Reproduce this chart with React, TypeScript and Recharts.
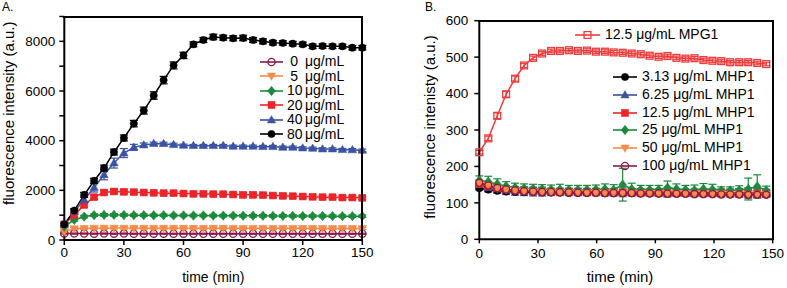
import React from 'react';
import { LineChart, Line, XAxis, YAxis, ErrorBar, Legend } from 'recharts';

const FONT = '"Liberation Sans", Arial, Helvetica, sans-serif';

// ---------------- Panel A data ----------------
const timeA = [0, 5, 10, 15, 20, 25, 30, 35, 40, 45, 50, 55, 60, 65, 70, 75, 80, 85, 90, 95, 100, 105, 110, 115, 120, 125, 130, 135, 140, 145, 150];
const a0 = [262, 258, 260, 256, 258, 255, 257, 254, 256, 255, 255, 254, 255, 253, 254, 253, 254, 252, 253, 252, 253, 252, 252, 251, 252, 251, 251, 250, 251, 250, 250];
const a5 = [337, 458, 470, 475, 478, 480, 480, 478, 478, 476, 476, 475, 475, 474, 474, 473, 473, 472, 472, 471, 471, 470, 470, 469, 469, 468, 468, 467, 467, 466, 466];
const a10 = [539, 808, 943, 1000, 1010, 1010, 1005, 1000, 1000, 995, 995, 990, 990, 985, 985, 980, 980, 980, 975, 975, 975, 970, 970, 970, 965, 965, 965, 960, 960, 960, 960];
const a20 = [633, 1010, 1414, 1724, 1912, 1953, 1939, 1926, 1912, 1900, 1886, 1886, 1872, 1859, 1859, 1845, 1845, 1832, 1818, 1818, 1805, 1791, 1778, 1764, 1751, 1740, 1724, 1724, 1710, 1710, 1697];
const a40 = [633, 1145, 1616, 2114, 2626, 3098, 3502, 3731, 3825, 3879, 3879, 3838, 3811, 3798, 3798, 3798, 3798, 3771, 3771, 3771, 3758, 3758, 3731, 3731, 3704, 3690, 3663, 3663, 3636, 3630, 3609];
const a80 = [633, 1185, 1818, 2384, 2896, 3542, 4108, 4687, 5212, 5818, 6438, 7030, 7434, 7879, 8054, 8175, 8148, 8121, 8135, 8054, 8000, 7946, 7933, 7906, 7879, 7798, 7811, 7798, 7798, 7744, 7744];
const e0 = [20, 20, 20, 20, 20, 20, 20, 20, 20, 20, 20, 20, 20, 20, 20, 20, 20, 20, 20, 20, 20, 20, 20, 20, 20, 20, 20, 20, 20, 20, 20];
const e5 = [30, 40, 40, 40, 40, 40, 40, 40, 40, 40, 40, 40, 40, 40, 40, 40, 40, 40, 40, 40, 40, 40, 40, 40, 40, 40, 40, 40, 40, 40, 40];
const e10 = [40, 50, 50, 50, 50, 50, 50, 50, 50, 50, 50, 50, 50, 50, 50, 50, 50, 50, 50, 50, 50, 50, 50, 50, 50, 50, 50, 50, 50, 50, 50];
const e20 = [60, 80, 90, 90, 80, 80, 70, 70, 70, 70, 70, 70, 70, 70, 70, 70, 70, 70, 70, 70, 70, 70, 70, 70, 70, 70, 70, 70, 70, 70, 70];
const e40 = [60, 100, 150, 180, 200, 200, 180, 120, 80, 60, 60, 60, 50, 50, 50, 50, 50, 50, 50, 50, 50, 50, 50, 50, 50, 50, 50, 50, 50, 50, 50];
const e80 = [60, 80, 100, 100, 120, 120, 120, 130, 140, 150, 150, 140, 130, 100, 100, 110, 100, 100, 110, 100, 100, 90, 90, 90, 90, 90, 90, 90, 90, 90, 90];
const concA = ['0', '5', '10', '20', '40', '80'];
const yTicksA = [0, 1000, 2000, 3000, 4000, 5000, 6000, 7000, 8000, 9000];
const xMajor = [0, 30, 60, 90, 120, 150];

// ---------------- Panel B data ----------------
const timeB = [0, 4.6, 9.2, 13.7, 18.3, 22.9, 27.5, 32.1, 36.7, 41.2, 45.8, 50.4, 55, 59.6, 64.2, 68.7, 73.3, 77.9, 82.5, 87.1, 91.7, 96.2, 100.8, 105.4, 110, 114.6, 119.2, 123.7, 128.3, 132.9, 137.5, 142.1, 146.7];
const mpg1 = [239, 277, 339, 398, 441, 477, 498, 510, 517, 517, 519, 517, 518, 515, 515, 513, 512, 510, 508, 504, 501, 503, 498, 496, 497, 492, 490, 489, 486, 486, 486, 484, 481];
const m313 = [140, 136, 133, 131, 130, 129, 129, 128, 128, 128, 127, 127, 127, 127, 126, 126, 126, 126, 126, 126, 125, 125, 125, 125, 125, 125, 124, 124, 124, 124, 124, 124, 124];
const m625 = [150, 142, 138, 135, 133, 132, 131, 131, 130, 130, 130, 130, 130, 130, 129, 129, 129, 129, 129, 129, 129, 128, 128, 128, 128, 128, 128, 128, 128, 127, 127, 127, 127];
const m125 = [152, 145, 140, 137, 135, 133, 132, 132, 131, 131, 131, 130, 130, 130, 130, 130, 129, 129, 129, 129, 129, 129, 128, 128, 128, 128, 128, 128, 128, 128, 127, 127, 127];
const m25 = [162, 158, 152, 146, 142, 140, 139, 138, 137, 137, 136, 136, 136, 137, 138, 136, 150, 138, 136, 136, 136, 142, 138, 136, 135, 138, 137, 134, 134, 135, 138, 145, 134];
const m50 = [155, 148, 140, 136, 134, 132, 131, 130, 130, 129, 129, 129, 128, 128, 128, 128, 127, 127, 127, 127, 126, 126, 126, 126, 125, 125, 125, 125, 124, 124, 124, 124, 124];
const m100 = [155, 148, 141, 137, 134, 132, 131, 130, 130, 129, 129, 128, 128, 128, 127, 127, 127, 127, 126, 126, 126, 125, 125, 125, 124, 124, 124, 123, 123, 123, 122, 122, 122];
const eMpg1 = [5, 6, 8, 8, 7, 6, 5, 5, 5, 5, 5, 5, 5, 5, 5, 5, 5, 5, 5, 5, 5, 5, 5, 5, 5, 5, 5, 5, 5, 5, 5, 5, 5];
const e313 = [4, 4, 4, 4, 4, 4, 4, 4, 4, 4, 4, 4, 4, 4, 4, 4, 4, 4, 4, 4, 4, 4, 4, 4, 4, 4, 4, 4, 4, 4, 4, 4, 4];
const e625 = [10, 12, 12, 12, 12, 12, 12, 12, 10, 10, 10, 10, 10, 10, 10, 10, 12, 10, 10, 10, 10, 12, 10, 10, 10, 10, 10, 10, 10, 12, 14, 12, 10];
const e125 = [6, 6, 6, 6, 6, 6, 6, 6, 6, 6, 6, 6, 6, 6, 6, 6, 6, 6, 6, 6, 6, 6, 6, 6, 6, 6, 6, 6, 6, 6, 6, 6, 6];
const e25 = [12, 15, 14, 12, 12, 12, 12, 12, 12, 14, 12, 12, 12, 12, 14, 14, 45, 16, 12, 12, 12, 18, 14, 12, 14, 15, 14, 10, 10, 12, 30, 32, 12];
const e50 = [8, 8, 8, 8, 8, 8, 8, 8, 8, 8, 8, 8, 8, 8, 8, 8, 8, 8, 8, 8, 8, 8, 8, 8, 8, 8, 8, 8, 8, 8, 8, 8, 8];
const e100 = [6, 6, 6, 6, 6, 6, 6, 6, 6, 6, 6, 6, 6, 6, 6, 6, 6, 6, 6, 6, 6, 6, 6, 6, 6, 6, 6, 6, 6, 6, 6, 6, 6];
const concB = ['3.13', '6.25', '12.5', '25', '50', '100'];
const yTicksB = [0, 100, 200, 300, 400, 500, 600];

// ---------------- layout (plot boxes; margins are derived from these) ----------------
const CHART_H = 288;
const A_LEFT = 0, A_W = 392, A_YAXIS_W = 40;
const B_LEFT = 400, B_W = 387, B_YAXIS_W = 45;
const PLOT_A = { left: 64.3, top: 16.5, right: 362.3, bottom: 240 };
const PLOT_B = { left: 79.3, top: 20.7, right: 372.7, bottom: 239.3 };

// ---------------- series configs ----------------
type Shape = 'circle' | 'square' | 'triUp' | 'triDown' | 'diamond';
interface Series { key: string; err: string; conc: string; color: string; shape: Shape; hollow: boolean; values: number[]; errors: number[]; }

const seriesA: Series[] = [
  { key: 'a0', err: 'e0', conc: concA[0], color: '#8b1a4b', shape: 'circle', hollow: true, values: a0, errors: e0 },
  { key: 'a5', err: 'e5', conc: concA[1], color: '#f68b4a', shape: 'triDown', hollow: false, values: a5, errors: e5 },
  { key: 'a10', err: 'e10', conc: concA[2], color: '#1b8a3a', shape: 'diamond', hollow: false, values: a10, errors: e10 },
  { key: 'a20', err: 'e20', conc: concA[3], color: '#ec2327', shape: 'square', hollow: false, values: a20, errors: e20 },
  { key: 'a40', err: 'e40', conc: concA[4], color: '#3a53a4', shape: 'triUp', hollow: false, values: a40, errors: e40 },
  { key: 'a80', err: 'e80', conc: concA[5], color: '#000000', shape: 'circle', hollow: false, values: a80, errors: e80 },
];

const seriesB: Series[] = [
  { key: 'm313', err: 'f313', conc: concB[0], color: '#000000', shape: 'circle', hollow: false, values: m313, errors: e313 },
  { key: 'm625', err: 'f625', conc: concB[1], color: '#3a53a4', shape: 'triUp', hollow: false, values: m625, errors: e625 },
  { key: 'm125', err: 'f125', conc: concB[2], color: '#ec2327', shape: 'square', hollow: false, values: m125, errors: e125 },
  { key: 'm25', err: 'f25', conc: concB[3], color: '#1b8a3a', shape: 'diamond', hollow: false, values: m25, errors: e25 },
  { key: 'm50', err: 'f50', conc: concB[4], color: '#f68b4a', shape: 'triDown', hollow: false, values: m50, errors: e50 },
  { key: 'm100', err: 'f100', conc: concB[5], color: '#8b1a4b', shape: 'circle', hollow: true, values: m100, errors: e100 },
];
const seriesMpg: Series = { key: 'mpg1', err: 'fmpg1', conc: '12.5', color: '#f03c3c', shape: 'square', hollow: true, values: mpg1, errors: eMpg1 };

const dataA = timeA.map((t, i) => {
  const row: Record<string, number> = { t };
  seriesA.forEach((s) => { row[s.key] = s.values[i]; row[s.err] = s.errors[i]; });
  return row;
});
const dataB = timeB.map((t, i) => {
  const row: Record<string, number> = { t };
  [...seriesB, seriesMpg].forEach((s) => { row[s.key] = s.values[i]; row[s.err] = s.errors[i]; });
  return row;
});

// ---------------- markers ----------------
function Marker({ shape, cx, cy, color, hollow, r }: { shape: Shape; cx: number; cy: number; color: string; hollow: boolean; r: number }) {
  const fill = hollow ? 'none' : color;
  const sw = hollow ? 1.3 : 0.6;
  switch (shape) {
    case 'circle':
      return <circle cx={cx} cy={cy} r={r} fill={fill} stroke={color} strokeWidth={sw} />;
    case 'square':
      return <rect x={cx - r * 0.95} y={cy - r * 0.95} width={r * 1.9} height={r * 1.9} fill={fill} stroke={color} strokeWidth={sw} />;
    case 'triUp':
      return <polygon points={`${cx},${cy - r * 1.2} ${cx - r * 1.15},${cy + r * 0.8} ${cx + r * 1.15},${cy + r * 0.8}`} fill={fill} stroke={color} strokeWidth={sw} />;
    case 'triDown':
      return <polygon points={`${cx},${cy + r * 1.2} ${cx - r * 1.15},${cy - r * 0.8} ${cx + r * 1.15},${cy - r * 0.8}`} fill={fill} stroke={color} strokeWidth={sw} />;
    case 'diamond':
    default:
      return <polygon points={`${cx},${cy - r * 1.3} ${cx + r * 1.05},${cy} ${cx},${cy + r * 1.3} ${cx - r * 1.05},${cy}`} fill={fill} stroke={color} strokeWidth={sw} />;
  }
}

const dotRenderer = (s: Series, r: number) => (props: any) => {
  const { cx, cy, index } = props;
  if (cx == null || cy == null || isNaN(cx) || isNaN(cy)) return <g key={`d-${s.key}-${index}`} />;
  return <Marker key={`d-${s.key}-${index}`} shape={s.shape} cx={cx} cy={cy} color={s.color} hollow={s.hollow} r={r} />;
};

// ---------------- legends ----------------
const LegendIcon = ({ s, w }: { s: Series; w: number }) => (
  <svg width={w + 4} height={14} style={{ flex: 'none', display: 'block' }}>
    <line x1={0} y1={7} x2={w} y2={7} stroke={s.color} strokeWidth={1.6} />
    <Marker shape={s.shape} cx={w / 2} cy={7} color={s.color} hollow={s.hollow} r={3.6} />
  </svg>
);

const LegendA = () => (
  <div style={{ fontSize: 14, fontFamily: FONT, color: '#000', lineHeight: '14.5px' }}>
    {seriesA.map((s) => (
      <div key={s.key} style={{ display: 'flex', alignItems: 'center', height: 14.5, whiteSpace: 'nowrap' }}>
        <LegendIcon s={s} w={23} />
        <span style={{ display: 'inline-block', width: 11, textAlign: 'right' }}>{s.conc}</span>
        <span style={{ marginLeft: 7 }}>μg/mL</span>
      </div>
    ))}
  </div>
);

const LegendB = () => (
  <div style={{ fontSize: 14, fontFamily: FONT, color: '#000', lineHeight: '17.8px' }}>
    <div style={{ display: 'flex', alignItems: 'center', height: 17.8, whiteSpace: 'nowrap' }}>
      <LegendIcon s={seriesMpg} w={25} />
      <span style={{ marginLeft: 1 }}>{seriesMpg.conc} μg/mL MPG1</span>
    </div>
    <div style={{ height: 24.2 }} />
    <div style={{ marginLeft: 38 }}>
      {seriesB.map((s) => (
        <div key={s.key} style={{ display: 'flex', alignItems: 'center', height: 17.8, whiteSpace: 'nowrap' }}>
          <LegendIcon s={s} w={24} />
          <span style={{ marginLeft: 1 }}>{s.conc} μg/mL MHP1</span>
        </div>
      ))}
    </div>
  </div>
);

// top + right border of a plot box (left and bottom are drawn by the axes)
const FrameBox = ({ plot, offsetX }: { plot: { left: number; top: number; right: number; bottom: number }; offsetX: number }) => (
  <div style={{
    position: 'absolute', boxSizing: 'border-box', pointerEvents: 'none',
    left: offsetX + plot.left - 1, top: plot.top - 1,
    width: plot.right - plot.left + 2, height: plot.bottom - plot.top + 2,
    borderTop: '2px solid #000', borderRight: '2px solid #000',
  }} />
);

const AXIS_LINE = { stroke: '#000', strokeWidth: 2 };
const TICK_LINE = { stroke: '#000', strokeWidth: 1.5 };
const TICK_STYLE = { fontSize: 13.5, fill: '#000', fontFamily: FONT };

export default function App() {
  return (
    <div style={{ position: 'absolute', left: 0, top: 0, width: 787, height: 288, background: '#fff', fontFamily: FONT }}>
      <div style={{ position: 'absolute', left: 2, top: 0, fontSize: 12, fontFamily: FONT }}>A.</div>
      <div style={{ position: 'absolute', left: 425, top: 0, fontSize: 12, fontFamily: FONT }}>B.</div>

      {/* Panel A */}
      <div style={{ position: 'absolute', left: A_LEFT, top: 0 }}>
        <LineChart width={A_W} height={CHART_H} data={dataA}
          margin={{ top: PLOT_A.top, right: A_W - PLOT_A.right, bottom: 0, left: PLOT_A.left - A_YAXIS_W }}>
          <XAxis xAxisId="x" dataKey="t" type="number" domain={[0, 150]} ticks={xMajor}
            axisLine={AXIS_LINE} tickLine={TICK_LINE} tickSize={5} tickMargin={2} tick={TICK_STYLE} height={CHART_H - PLOT_A.bottom}
            label={{ value: 'time (min)', position: 'insideBottom', offset: 6, fontSize: 14, fill: '#000' }} />
          <YAxis yAxisId="y" type="number" domain={[0, 9000]} ticks={yTicksA} width={A_YAXIS_W}
            axisLine={AXIS_LINE} tickLine={TICK_LINE} tickSize={5} tickMargin={4} tick={TICK_STYLE}
            tickFormatter={(v: number) => (v % 2000 === 0 && v < 9000 ? String(v) : '')}
            label={{ value: 'fluorescence intensity (a.u.)', angle: -90, position: 'center', dx: -35.5, dy: -15, fontSize: 15, fill: '#000' }} />
          <Legend layout="vertical" align="center" verticalAlign="middle" content={<LegendA />}
            wrapperStyle={{ left: 260, top: 54.45, width: 120, height: 90 }} />
          {seriesA.map((s) => (
            <Line key={s.key} xAxisId="x" yAxisId="y" dataKey={s.key} stroke={s.color} strokeWidth={1.5}
              isAnimationActive={false} dot={dotRenderer(s, 3.6)} activeDot={false} legendType="none">
              <ErrorBar dataKey={s.err} direction="y" width={4} stroke={s.color} strokeWidth={1.2} />
            </Line>
          ))}
        </LineChart>
      </div>
      <FrameBox plot={PLOT_A} offsetX={A_LEFT} />

      {/* Panel B */}
      <div style={{ position: 'absolute', left: B_LEFT, top: 0 }}>
        <LineChart width={B_W} height={CHART_H} data={dataB}
          margin={{ top: PLOT_B.top, right: B_W - PLOT_B.right, bottom: 0, left: PLOT_B.left - B_YAXIS_W }}>
          <XAxis xAxisId="x" dataKey="t" type="number" domain={[0, 150]} ticks={xMajor}
            axisLine={AXIS_LINE} tickLine={TICK_LINE} tickSize={4} tickMargin={5} tick={TICK_STYLE} height={CHART_H - PLOT_B.bottom}
            label={{ value: 'time (min)', position: 'insideBottom', offset: 6, dx: -6, fontSize: 15, fill: '#000' }} />
          <YAxis yAxisId="y" type="number" domain={[0, 600]} ticks={yTicksB} width={B_YAXIS_W}
            axisLine={AXIS_LINE} tickLine={TICK_LINE} tickSize={5} tickMargin={6} tick={TICK_STYLE}
            label={{ value: 'fluorescence intenisty (a.u.)', angle: -90, position: 'center', dx: -26.8, dy: -3, fontSize: 15, fill: '#000' }} />
          <Legend layout="vertical" align="center" verticalAlign="middle" content={<LegendB />}
            wrapperStyle={{ left: 175, top: 26.1, width: 200, height: 160 }} />
          {[...seriesB, seriesMpg].map((s) => (
            <Line key={s.key} xAxisId="x" yAxisId="y" dataKey={s.key} stroke={s.color} strokeWidth={1.5}
              isAnimationActive={false} dot={dotRenderer(s, 3.6)} activeDot={false} legendType="none">
              <ErrorBar dataKey={s.err} direction="y" width={4} stroke={s.color} strokeWidth={1.2} />
            </Line>
          ))}
        </LineChart>
      </div>
      <FrameBox plot={PLOT_B} offsetX={B_LEFT} />
    </div>
  );
}
